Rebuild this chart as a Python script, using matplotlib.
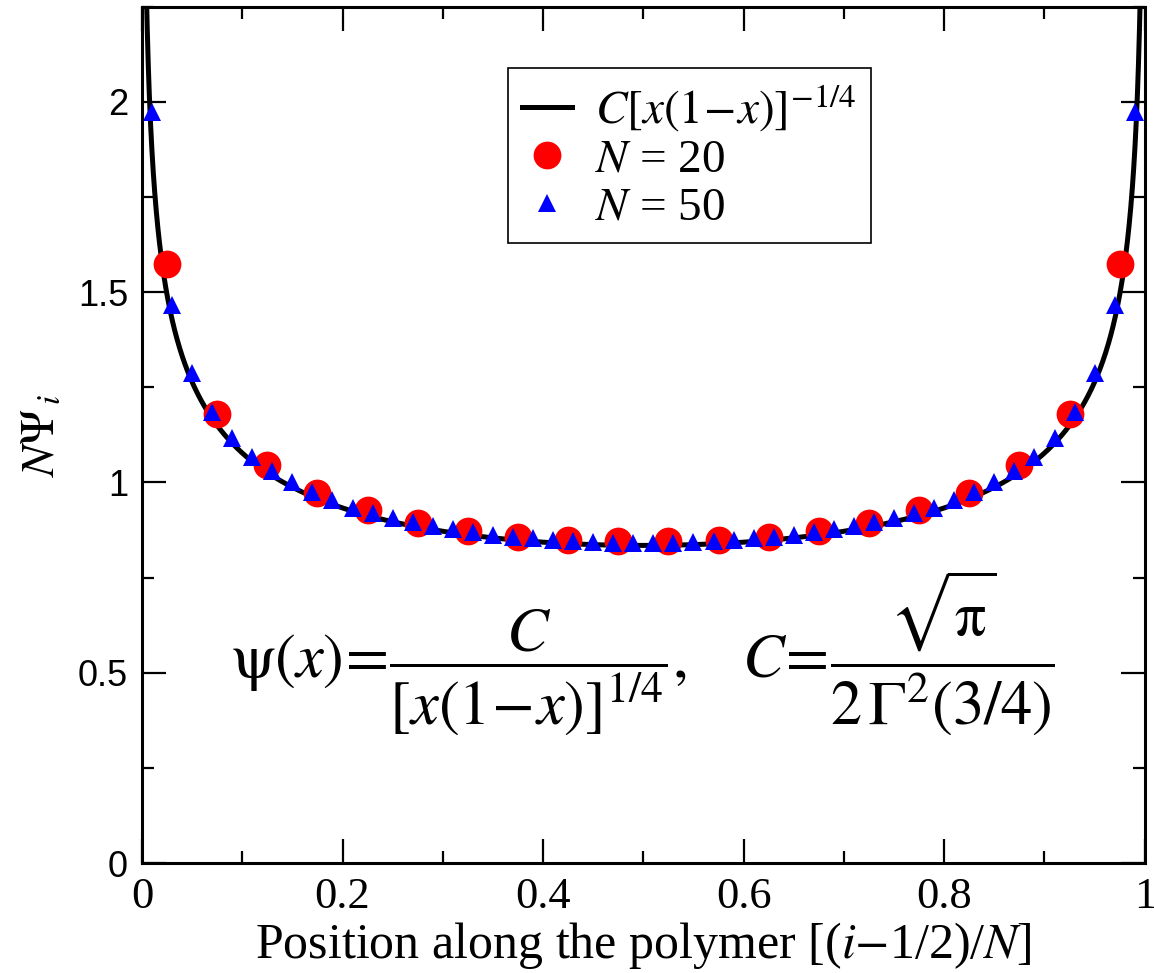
import matplotlib
matplotlib.use("Agg")
import matplotlib.pyplot as plt
import numpy as np
from math import gamma, pi, sqrt

plt.rcParams['mathtext.fontset'] = 'stix'
plt.rcParams['font.family'] = ['Liberation Serif', 'DejaVu Serif']

# scaled eigenvector components N*Psi_i, first half of each chain (symmetric)
psi_n20_half = [1.575, 1.179, 1.046, 0.973, 0.927, 0.894, 0.872, 0.856, 0.848, 0.845]
psi_n50_half = [1.974, 1.466, 1.289, 1.186, 1.118, 1.068, 1.031, 1.000, 0.975, 0.953,
                0.933, 0.921, 0.907, 0.896, 0.885, 0.877, 0.869, 0.863, 0.857, 0.854,
                0.850, 0.846, 0.843, 0.841, 0.840]

psi_n20 = psi_n20_half + psi_n20_half[::-1]
psi_n50 = psi_n50_half + psi_n50_half[::-1]
x_n20 = [(i - 0.5) / 20 for i in range(1, 21)]
x_n50 = [(i - 0.5) / 50 for i in range(1, 51)]

# continuum limit
C = sqrt(pi) / (2 * gamma(0.75) ** 2)
xc = np.linspace(0.0003, 0.9997, 3000)
yc = C * (xc * (1 - xc)) ** (-0.25)

fig = plt.figure(figsize=(11.54, 9.73), dpi=100)
ax = fig.add_axes([0.123, 0.113, 0.869, 0.880])

ax.plot(xc, yc, color='black', lw=3.6, label=r'$C[x(1\!-\!x)]^{-1/4}$', zorder=2)
ax.plot(x_n20, psi_n20, 'o', color='red', ms=20, mew=0, label=r'$N$ = 20', zorder=3)
ax.plot(x_n50, psi_n50, '^', color='blue', ms=13, mew=0, label=r'$N$ = 50', zorder=4)

ax.set_xlim(0, 1)
ax.set_ylim(0, 2.25)
ax.set_xticks(np.arange(0, 1.01, 0.2))
ax.set_xticks(np.arange(0, 1.01, 0.1), minor=True)
ax.set_yticks(np.arange(0, 2.01, 0.5))
ax.set_yticks(np.arange(0, 2.26, 0.25), minor=True)
ax.set_xticklabels(['0', '0.2', '0.4', '0.6', '0.8', '1'], fontsize=32)
ax.set_yticklabels(['0', '0.5', '1', '1.5', '2'], fontsize=26, family='Liberation Sans')
ax.tick_params(which='both', direction='in', top=True, right=True, width=1.6)
ax.tick_params(which='major', length=17)
ax.tick_params(which='minor', length=8.5)
ax.tick_params(axis='x', which='major', pad=10)
ax.tick_params(axis='y', which='major', pad=10)
for sp in ax.spines.values():
    sp.set_linewidth(2.2)

ax.set_xlabel(r'Position along the polymer [($i$$-$1/2)/$N$]', fontsize=36, labelpad=2)
ax.set_ylabel(r'$N\Psi_{\,i}$', fontsize=34, labelpad=10)

ax.text(0.5, 0.55,
        r'$\mathrm{\psi}\left(x\right)\!=\!\dfrac{C}{\left[x\left(1\!-\!x\right)\right]^{1/4}},\quad'
        r' C\!=\!\dfrac{\sqrt{\mathrm{\pi}}}{2\,\Gamma^2\left(3/4\right)}$',
        fontsize=45, ha='center', va='center')

leg = ax.legend(loc='upper left', bbox_to_anchor=(0.365, 0.929), fontsize=34,
                frameon=True, fancybox=False, edgecolor='black', framealpha=1,
                handlelength=1.05, handletextpad=0.5, borderpad=0.3, labelspacing=0.1,
                borderaxespad=0, numpoints=1)
leg.get_frame().set_linewidth(1.2)

fig.savefig('out.png', dpi=100)
